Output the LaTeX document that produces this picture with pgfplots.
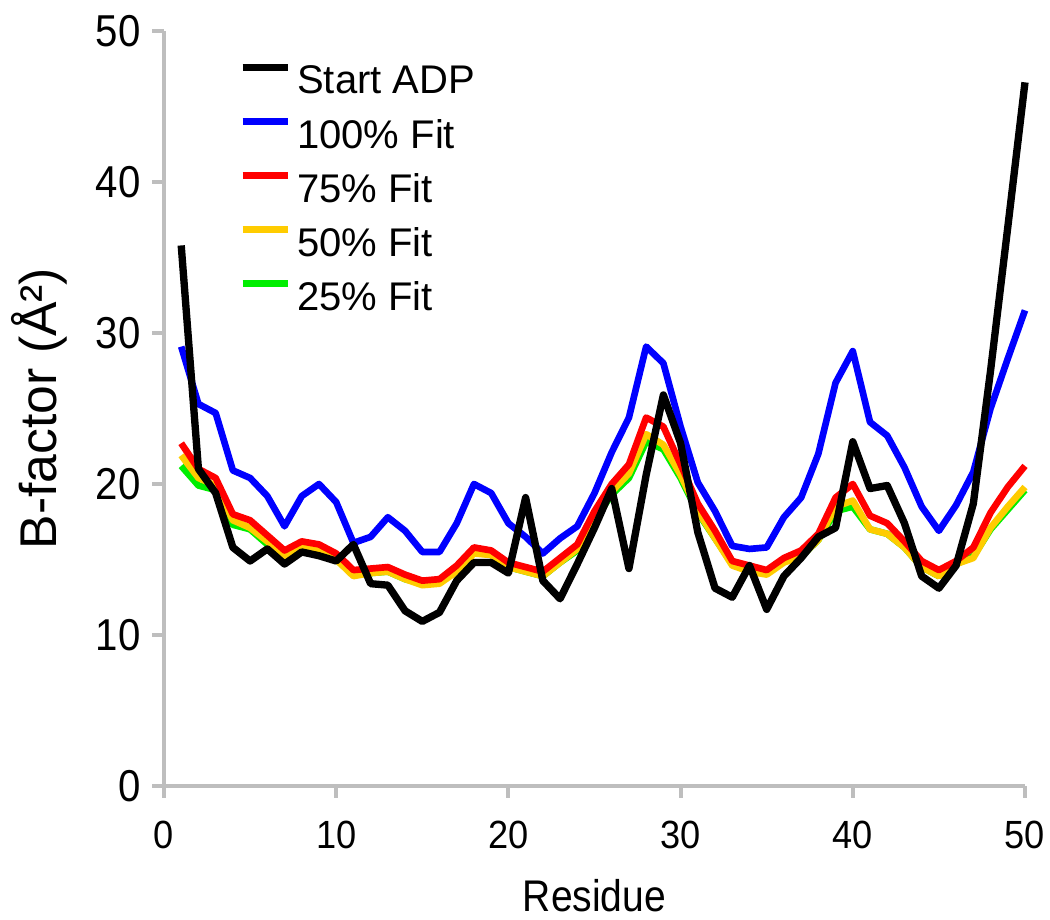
\documentclass[border=0pt]{standalone}
\usepackage{fontspec}
\setmainfont{Liberation Sans}
\usepackage{pgfplots}
\pgfplotsset{compat=1.18}
\definecolor{axgray}{RGB}{190,190,190}
\definecolor{cblue}{RGB}{0,0,255}
\definecolor{cred}{RGB}{255,0,0}
\definecolor{cyellow}{RGB}{255,204,0}
\definecolor{cgreen}{RGB}{0,238,0}
\begin{document}
\begin{tikzpicture}
\path[use as bounding box] (-49.2pt,-39.9pt) rectangle (265.8pt,235.8pt);
\begin{axis}[
  at={(0pt,0pt)}, anchor=south west,
  scale only axis, width=258.3pt, height=226.5pt,
  xmin=0, xmax=50, ymin=0, ymax=50,
  xtick={0,10,...,50}, ytick={0,10,...,50},
  axis x line*=bottom, axis y line*=left,
  axis line style={axgray, line width=1.2pt},
  tick style={axgray, line width=1.2pt},
  tick align=outside, major tick length=3.5pt,
  /pgf/number format/assume math mode=true,
  xticklabel={\scalebox{0.92}[1]{\pgfmathprintnumber{\tick}}},
  yticklabel={\scalebox{0.9}[1]{\pgfmathprintnumber{\tick}}},
  x tick label style={font=\fontsize{11.8}{14}\selectfont, black, yshift=-3.5pt},
  y tick label style={font=\fontsize{13.4}{15}\selectfont, black},
  xlabel={\scalebox{0.88}[1]{Residue}}, ylabel={B-factor (Å²)},
  xlabel style={font=\fontsize{13.3}{15}\selectfont, at={(axis description cs:0.5,-0.1457)}, anchor=center},
  ylabel style={font=\fontsize{15.5}{18}\selectfont, at={(axis description cs:-0.1445,0.5)}, anchor=center},
  clip=false,
  reverse legend,
  legend cell align=left,
  legend image code/.code={\draw[#1] (0pt,4.3pt) -- (13.5pt,4.3pt);},
  legend style={draw=none, fill=none, at={(rel axis cs:0.0862,0.969)}, anchor=north west,
    font=\fontsize{12}{14}\selectfont, inner sep=0pt, row sep=0pt,
    nodes={inner xsep=0pt, inner ysep=0pt, minimum height=16.2pt},
    /tikz/every odd column/.append style={column sep=1.8pt}},
  every axis plot/.append style={line join=round, mark=none},
]
\addplot[cgreen, line width=2pt] coordinates {
(1,21.2)(2,19.9)(3,19.6)(4,17.3)(5,17.0)(6,16.0)(7,15.2)(8,15.7)(9,15.5)(10,15.0)
(11,14.0)(12,14.1)(13,14.2)(14,13.7)(15,13.4)(16,13.5)(17,14.3)(18,15.5)(19,15.3)(20,14.5)
(21,14.2)(22,13.9)(23,14.8)(24,15.6)(25,17.6)(26,19.3)(27,20.4)(28,22.8)(29,22.3)(30,20.4)
(31,18.1)(32,16.4)(33,14.7)(34,14.3)(35,14.1)(36,14.9)(37,15.2)(38,16.3)(39,18.2)(40,18.5)
(41,17.0)(42,16.7)(43,15.8)(44,14.5)(45,13.9)(46,14.7)(47,15.2)(48,17.0)(49,18.3)(50,19.6)};
\addlegendentry{25\% Fit}
\addplot[cyellow, line width=2pt] coordinates {
(1,21.9)(2,20.4)(3,19.9)(4,17.6)(5,17.1)(6,16.2)(7,15.2)(8,15.8)(9,15.6)(10,15.0)
(11,13.9)(12,14.1)(13,14.2)(14,13.7)(15,13.3)(16,13.4)(17,14.2)(18,15.4)(19,15.3)(20,14.5)
(21,14.2)(22,13.9)(23,14.8)(24,15.7)(25,17.7)(26,19.5)(27,20.7)(28,23.3)(29,22.6)(30,20.6)
(31,18.2)(32,16.4)(33,14.6)(34,14.2)(35,14.0)(36,14.8)(37,15.2)(38,16.3)(39,18.5)(40,18.9)
(41,17.0)(42,16.7)(43,15.8)(44,14.5)(45,13.9)(46,14.7)(47,15.1)(48,17.1)(49,18.5)(50,19.8)};
\addlegendentry{50\% Fit}
\addplot[cred, line width=2pt] coordinates {
(1,22.7)(2,21.0)(3,20.4)(4,18.0)(5,17.6)(6,16.6)(7,15.6)(8,16.2)(9,16.0)(10,15.4)
(11,14.3)(12,14.4)(13,14.5)(14,14.0)(15,13.6)(16,13.7)(17,14.6)(18,15.8)(19,15.6)(20,14.8)
(21,14.5)(22,14.2)(23,15.1)(24,16.0)(25,18.2)(26,20.0)(27,21.3)(28,24.4)(29,23.8)(30,21.3)
(31,18.7)(32,16.9)(33,14.9)(34,14.6)(35,14.3)(36,15.1)(37,15.6)(38,16.7)(39,19.1)(40,20.0)
(41,17.9)(42,17.4)(43,16.2)(44,14.9)(45,14.3)(46,14.9)(47,15.8)(48,18.1)(49,19.8)(50,21.2)};
\addlegendentry{75\% Fit}
\addplot[cblue, line width=2pt] coordinates {
(1,29.1)(2,25.3)(3,24.7)(4,20.9)(5,20.4)(6,19.2)(7,17.2)(8,19.2)(9,20.0)(10,18.8)
(11,16.1)(12,16.5)(13,17.8)(14,16.9)(15,15.5)(16,15.5)(17,17.4)(18,20.0)(19,19.4)(20,17.4)
(21,16.5)(22,15.4)(23,16.4)(24,17.2)(25,19.4)(26,22.1)(27,24.4)(28,29.1)(29,28.0)(30,23.8)
(31,20.1)(32,18.2)(33,15.9)(34,15.7)(35,15.8)(36,17.8)(37,19.1)(38,22.0)(39,26.7)(40,28.8)
(41,24.1)(42,23.2)(43,21.1)(44,18.5)(45,16.9)(46,18.6)(47,20.8)(48,25.0)(49,28.3)(50,31.5)};
\addlegendentry{100\% Fit}
\addplot[black, line width=2.2pt] coordinates {
(1,35.8)(2,21.0)(3,19.4)(4,15.8)(5,14.9)(6,15.7)(7,14.7)(8,15.5)(9,15.25)(10,14.9)
(11,16.0)(12,13.4)(13,13.3)(14,11.6)(15,10.9)(16,11.5)(17,13.6)(18,14.8)(19,14.8)(20,14.1)
(21,19.1)(22,13.6)(23,12.4)(24,14.7)(25,17.1)(26,19.7)(27,14.4)(28,20.6)(29,25.9)(30,22.7)
(31,16.8)(32,13.1)(33,12.5)(34,14.6)(35,11.7)(36,13.9)(37,15.1)(38,16.5)(39,17.1)(40,22.8)
(41,19.7)(42,19.9)(43,17.4)(44,13.9)(45,13.1)(46,14.6)(47,18.7)(48,27.5)(49,37.0)(50,46.6)};
\addlegendentry{Start ADP}
\end{axis}
\end{tikzpicture}
\end{document}
